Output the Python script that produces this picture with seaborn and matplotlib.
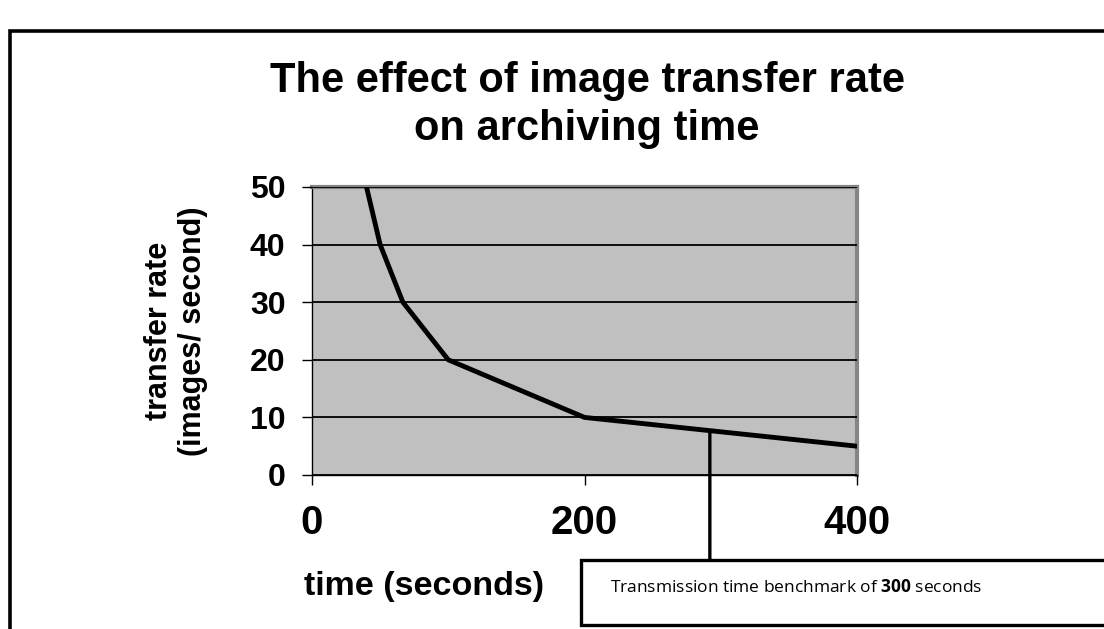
import matplotlib
matplotlib.use("Agg")
import matplotlib.pyplot as plt
from matplotlib.patches import Rectangle
import seaborn as sns
import pandas as pd

# ---- data ----
time_s = [40, 50, 66.7, 100, 200, 400]
rate = [50, 40, 30, 20, 10, 5]
x_ticks = [0, 200, 400]
y_ticks = [0, 10, 20, 30, 40, 50]
benchmark_time = 292
benchmark_rate = 7.7
title_lines = ["The effect of image transfer rate", "on archiving time"]
x_label = "time (seconds)"
y_label = "transfer rate\n(images/ second)"
callout = r"Transmission time benchmark of $\mathbf{300}$ seconds"

sns.set_style("white")
plt.rcParams["font.family"] = ["Liberation Sans", "DejaVu Sans"]
plt.rcParams["mathtext.fontset"] = "custom"
plt.rcParams["mathtext.rm"] = "Open Sans"
plt.rcParams["mathtext.bf"] = "Open Sans:bold"
for k in ["text.color", "axes.labelcolor", "xtick.color", "ytick.color"]:
    plt.rcParams[k] = "black"

W, H = 1104, 629
fig = plt.figure(figsize=(W / 100, H / 100), dpi=100)
fig.patch.set_facecolor("white")

# outer frame (extends beyond right and bottom edges)
fig.add_artist(Rectangle((10 / W, -0.2), 1.5, 1.2 - 31 / H, transform=fig.transFigure,
                         fill=False, edgecolor="black", lw=2.6, zorder=0))

ax = fig.add_axes([312 / W, (H - 475) / H, 545 / W, 288 / H])
ax.set_facecolor("#c0c0c0")

df = pd.DataFrame({"time": time_s, "rate": rate})
sns.lineplot(data=df, x="time", y="rate", ax=ax, color="black", linewidth=3.5,
             estimator=None, sort=False, zorder=5)

ax.set_xlim(0, 400)
ax.set_ylim(0, 50)
ax.set_xticks(x_ticks)
ax.set_yticks(y_ticks)
ax.set_xticklabels([str(v) for v in x_ticks], fontsize=29, fontweight="bold")
ax.set_yticklabels([str(v) for v in y_ticks], fontsize=23, fontweight="bold")
ax.tick_params(axis="both", direction="out", length=7, width=1, color="black", pad=12,
               left=True, bottom=True, labelcolor="black")
ax.tick_params(axis="x", pad=14)
ax.yaxis.grid(True, color="black", lw=1.3)
ax.xaxis.grid(False)
ax.set_axisbelow(False)
for g in ax.get_ygridlines():
    g.set_zorder(2)

for s in ["left", "bottom"]:
    ax.spines[s].set_color("black")
    ax.spines[s].set_linewidth(1.0)
for s in ["top", "right"]:
    ax.spines[s].set_color("#858585")
    ax.spines[s].set_linewidth(3.0)

ax.set_xlabel("")
ax.set_ylabel(y_label, fontsize=22, fontweight="bold", linespacing=1.2, color="black")
ax.yaxis.set_label_coords(-0.19, 0.5)

# title
fig.text(587 / W, 1 - 92 / H, title_lines[0], ha="center", va="baseline",
         fontsize=30, fontweight="bold")
fig.text(587 / W, 1 - 140 / H, title_lines[1], ha="center", va="baseline",
         fontsize=30, fontweight="bold")

# x label
fig.text(424 / W, 1 - 587 / H, x_label, ha="center", va="center",
         fontsize=24.5, fontweight="bold")

# callout box
fig.add_artist(Rectangle((581 / W, 4 / H), 1.0, (625 - 560) / H, transform=fig.transFigure,
                         facecolor="white", edgecolor="black", lw=2.4, zorder=3))
fig.text(610 / W, 1 - 587 / H, callout, ha="left", va="center", fontsize=12.5,
         family="Open Sans", zorder=4)

# callout leader line
ax.annotate("", xy=(benchmark_time, benchmark_rate), xycoords="data",
            xytext=(benchmark_time, H - 560), textcoords=("data", "figure pixels"),
            arrowprops=dict(arrowstyle="-", lw=2.4, color="black", shrinkA=0, shrinkB=0),
            annotation_clip=False, zorder=6)

fig.savefig("out.png", dpi=100)
